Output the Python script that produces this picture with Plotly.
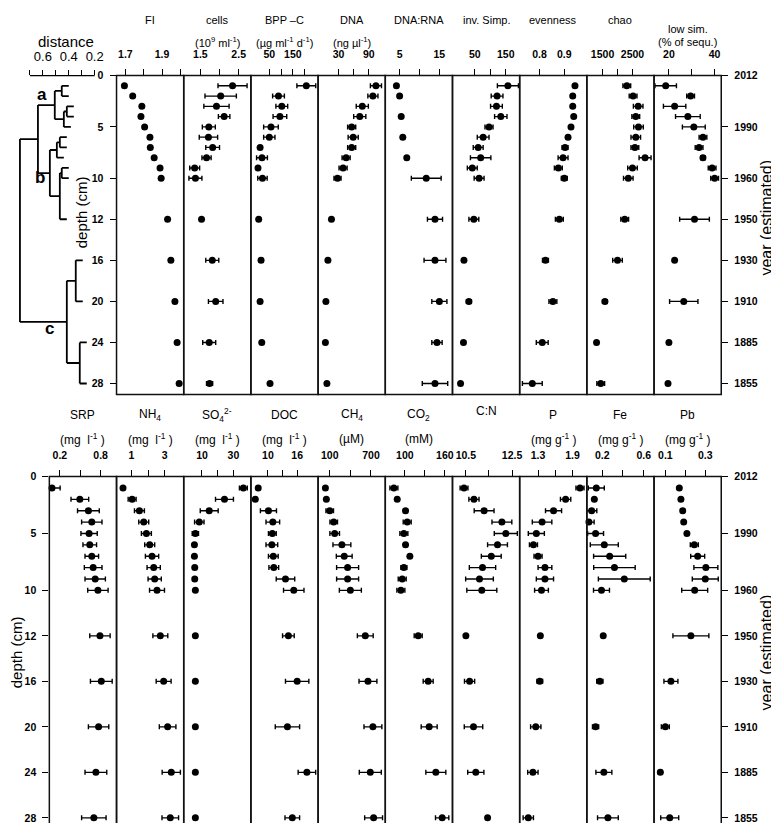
import plotly.graph_objects as go

W, H = 779, 823

# sediment depths (cm) of the samples and the labelled depth / year ticks
depth = [1, 2, 3, 4, 5, 6, 7, 8, 9, 10, 12, 16, 20, 24, 28]
depth_ticks = [0, 5, 10, 12, 16, 20, 24, 28]
year_ticks = ["2012", "1990", "1960", "1950", "1930", "1910", "1885", "1855"]

# ---- upper block (biology) ----
fi = [1.695, 1.74, 1.79, 1.785, 1.805, 1.834, 1.836, 1.857, 1.889, 1.895, 1.93, 1.948, 1.97, 1.982, 1.993]
fi_err = [0, 0, 0, 0, 0, 0, 0, 0, 0, 0, 0, 0, 0, 0, 0]
cells = [2.34, 2.03, 1.92, 2.12, 1.72, 1.71, 1.82, 1.66, 1.35, 1.37, 1.53, 1.81, 1.9, 1.73, 1.74]
cells_err = [0.38, 0.41, 0.33, 0.15, 0.17, 0.24, 0.18, 0.12, 0.13, 0.17, 0.02, 0.17, 0.19, 0.17, 0.08]
bpp = [207, 89, 103, 95, 57, 50, 11, 19, 2, 21, 5, 15, 11, 18, 53]
bpp_err = [40, 25, 25, 29, 31, 24, 5, 23, 4, 20, 2, 8, 4, 6, 4]
dna = [104, 98, 77, 72, 56, 59, 56, 45, 39, 28, 16, 9, 5, 4, 7]
dna_err = [11, 10, 12, 12, 8, 10, 8, 8, 8, 7, 2, 3, 2, 2, 2]
dnarna = [4.2, 5.0, None, 5.4, None, 5.8, None, 6.8, None, 11.7, 13.9, 13.9, 15.0, 14.4, 13.9]
dnarna_err = [0.3, 0.3, 0, 0.4, 0, 0.4, 0, 0.4, 0, 3.75, 1.9, 2.75, 1.9, 1.3, 3.2]
invsimp = [157, 122, 120, 134, 96, 77, 61, 69, 42, 64, 47, 15, 31, 13.5, 4]
invsimp_err = [34, 19, 19, 20, 13, 19, 16, 33, 16, 16, 16, 3, 8, 3, 2]
evenness = [0.943, 0.934, 0.934, 0.938, 0.927, 0.915, 0.903, 0.895, 0.876, 0.9, 0.88, 0.824, 0.854, 0.811, 0.771]
evenness_err = [0.004, 0.004, 0.004, 0.004, 0.004, 0.006, 0.012, 0.02, 0.016, 0.012, 0.016, 0.012, 0.016, 0.024, 0.04]
chao = [2310, 2520, 2690, 2610, 2700, 2610, 2580, 2920, 2500, 2360, 2240, 2000, 1580, 1300, 1440]
chao_err = [130, 130, 160, 130, 160, 160, 130, 200, 160, 160, 130, 160, 80, 60, 130]
lowsim = [18.6, 29.5, 22.5, 28.3, 30.9, 34.9, 33.2, 34.9, 38.9, 40, 31.2, 22.5, 26.5, 20, 19.6]
lowsim_err = [4.7, 1.7, 4.9, 5.4, 5, 1.7, 1.7, 1.0, 1.7, 1.7, 6.5, 0.5, 6.2, 0.3, 0.3]

# ---- lower block (chemistry) ----
srp = [0.084, 0.494, 0.62, 0.67, 0.63, 0.64, 0.67, 0.69, 0.72, 0.76, 0.79, 0.81, 0.77, 0.73, 0.70]
srp_err = [0.12, 0.13, 0.16, 0.15, 0.12, 0.1, 0.1, 0.13, 0.15, 0.15, 0.15, 0.16, 0.15, 0.16, 0.18]
nh4 = [0.49, 1.04, 1.48, 1.74, 1.9, 2.1, 2.24, 2.34, 2.4, 2.54, 2.74, 2.94, 3.18, 3.4, 3.34]
nh4_err = [0.05, 0.24, 0.3, 0.3, 0.3, 0.3, 0.4, 0.4, 0.4, 0.45, 0.45, 0.45, 0.5, 0.55, 0.5]
so4 = [36.3, 24.3, 14.6, 8.3, 5.8, 5.2, 5.2, 5.4, 5.4, 5.8, 5.8, 5.8, 5.8, 5.8, 5.8]
so4_err = [2.5, 5.7, 5.7, 3, 2, 0.5, 0.5, 0.5, 0.5, 0.5, 0.5, 0.5, 0.5, 0.5, 0.5]
doc = [8.0, 7.4, 10.1, 11.0, 10.9, 10.8, 11.1, 11.2, 13.6, 15.3, 14.2, 16, 14, 18, 15]
doc_err = [0.3, 0.3, 1.65, 1.4, 0.8, 1.2, 1.0, 1.0, 1.9, 2.1, 1.2, 2.4, 2.5, 1.8, 1.5]
ch4 = [37, 51, 100, 158, 172, 277, 311, 360, 360, 400, 617, 656, 728, 690, 738]
ch4_err = [10, 10, 55, 55, 70, 130, 115, 160, 160, 160, 115, 130, 130, 160, 130]
co2 = [83.5, 88.5, 101, 103.5, 98.5, 101, 107.5, 98.5, 96, 94, 120, 135, 136.5, 146.5, 156]
co2_err = [6, 2, 2, 6, 6, 2, 2, 4.5, 6, 6, 6, 7.5, 12, 15, 10]
cn = [10.42, 10.85, 11.29, 12.06, 12.23, 11.87, 11.6, 11.22, 11.09, 11.19, 10.5, 10.66, 10.83, 10.93, 11.44]
cn_err = [0.17, 0.22, 0.43, 0.43, 0.5, 0.43, 0.43, 0.57, 0.6, 0.65, 0.02, 0.22, 0.4, 0.35, 0.02]
p = [2.03, 1.78, 1.57, 1.37, 1.27, 1.22, 1.30, 1.42, 1.42, 1.36, 1.34, 1.33, 1.26, 1.21, 1.13]
p_err = [0.07, 0.09, 0.14, 0.17, 0.14, 0.07, 0.07, 0.12, 0.15, 0.12, 0.02, 0.05, 0.09, 0.09, 0.09]
fe = [0.143, 0.124, 0.098, 0.072, 0.136, 0.22, 0.272, 0.318, 0.413, 0.193, 0.21, 0.177, 0.136, 0.216, 0.255]
fe_err = [0.077, 0.01, 0.05, 0.05, 0.077, 0.135, 0.155, 0.2, 0.25, 0.077, 0.01, 0.03, 0.03, 0.077, 0.1]
pb = [0.17, 0.178, 0.187, 0.192, 0.208, 0.245, 0.262, 0.303, 0.3, 0.247, 0.228, 0.128, 0.1, 0.075, 0.122]
pb_err = [0.005, 0.005, 0.005, 0.005, 0.005, 0.02, 0.035, 0.06, 0.065, 0.065, 0.09, 0.035, 0.02, 0.01, 0.045]

# cluster tree of the samples: (merge distance, left, right)
tree = (0.777,
        (0.638,
         (0.508, (0.454, 1, 2), (0.438, (0.415, 3, 4), 5)),
         (0.546, (0.492, (0.469, 6, 7), 8), (0.469, (0.454, 9, 10), 12))),
        (0.415, (0.346, 16, 20), (0.315, 24, 28)))
leaf_hang = 0.054

top_panels = [
    ("FI", "", fi, fi_err, [1.652, 2.018], [1.7, 1.8, 1.9, 2.0], ["1.7", "", "1.9", ""]),
    ("cells", "(10<sup>9</sup> ml<sup>-1</sup>)", cells, cells_err, [1.064, 2.82], [1.5, 2.0, 2.5], ["1.5", "", "2.5"]),
    ("BPP \u2013C", "(\u00b5g ml<sup>-1</sup> d<sup>-1</sup>)", bpp, bpp_err, [-28, 257], [50, 100, 150, 200], ["50", "", "150", ""]),
    ("DNA", "(ng \u00b5l<sup>-1</sup>)", dna, dna_err, [-10.4, 122.5], [30, 60, 90], ["30", "", "90"]),
    ("DNA:RNA", "", dnarna, dnarna_err, [1.4, 18.3], [5, 10, 15], ["5", "", "15"]),
    ("inv. Simp.", "", invsimp, invsimp_err, [-22, 195], [50, 100, 150], ["50", "", "150"]),
    ("evenness", "", evenness, evenness_err, [0.72, 0.991], [0.8, 0.9], ["0.8", "0.9"]),
    ("chao", "", chao, chao_err, [977, 3220], [1500, 2000, 2500], ["1500", "", "2500"]),
    ("low sim.", "(% of sequ.)", lowsim, lowsim_err, [13.5, 42.9], [20, 30, 40], ["20", "", "40"]),
]
bottom_panels = [
    ("SRP", "(mg  l<sup>-1</sup> )", srp, srp_err, [0.045, 1.034], [0.2, 0.5, 0.8], ["0.2", "", "0.8"]),
    ("NH<sub>4</sub>", "(mg  l<sup>-1</sup> )", nh4, nh4_err, [0.1, 4.15], [1, 2, 3], ["1", "", "3"]),
    ("SO<sub>4</sub><sup>2-</sup>", "(mg  l<sup>-1</sup> )", so4, so4_err, [-1.6, 41.1], [10, 20, 30], ["10", "", "30"]),
    ("DOC", "(mg  l<sup>-1</sup> )", doc, doc_err, [6.5, 20.3], [10, 13, 16], ["10", "", "16"]),
    ("CH<sub>4</sub>", "(\u00b5M)", ch4, ch4_err, [-69, 908], [100, 400, 700], ["100", "", "700"]),
    ("CO<sub>2</sub>", "(mM)", co2, co2_err, [70.6, 171.5], [100, 130, 160], ["100", "", "160"]),
    ("C:N", "", cn, cn_err, [9.92, 12.83], [10.5, 11.5, 12.5], ["10.5", "", "12.5"]),
    ("P", "(mg g<sup>-1</sup> )", p, p_err, [0.98, 2.15], [1.3, 1.6, 1.9], ["1.3", "", "1.9"]),
    ("Fe", "(mg g<sup>-1</sup> )", fe, fe_err, [0.052, 0.7], [0.2, 0.4, 0.6], ["0.2", "", "0.6"]),
    ("Pb", "(mg g<sup>-1</sup> )", pb, pb_err, [0.0435, 0.38], [0.1, 0.2, 0.3], ["0.1", "", "0.3"]),
]


def pos(d):
    # the depth axis has a gap between 10 and 12 cm
    return d if d <= 10 else d + 2


def ax(k):
    return "x" if k == 1 else f"x{k}"


FONT = "Liberation Sans, Arial, sans-serif"
edges = [41.5 + 67.45 * i for i in range(11)]
TOP = (62.0, 383.3)
BOT = (466.0, 822.0)
YMAX = 31.07


def xdom(a, b):
    return [a / W, b / W]


def ydom(t, b):
    return [1 - b / H, 1 - t / H]


def label(text, x, y, size, xref="paper", yref="paper", angle=0):
    return dict(text=text, xref=xref, yref=yref, x=x, y=y, showarrow=False, textangle=angle,
                xanchor="center", yanchor="middle",
                font=dict(family=FONT, size=size, color="black"))


ypos = [pos(d) for d in depth]
fig = go.Figure()
annotations = []
shapes = []
layout = {}


def add_panel(k, spec, x0, x1, yname):
    name, unit, vals, err, rng, tv, tt = spec
    fig.add_trace(go.Scatter(
        x=vals, y=ypos, xaxis=ax(k), yaxis=yname, mode="markers",
        marker=dict(color="black", size=7), cliponaxis=False,
        error_x=dict(type="data", array=err, color="black", thickness=1.4, width=2.5),
        showlegend=False, hoverinfo="x+y"))
    layout["xaxis" if k == 1 else f"xaxis{k}"] = dict(
        domain=xdom(x0, x1), range=rng, anchor=yname, side="top",
        tickmode="array", tickvals=tv, ticktext=tt, ticks="outside", ticklen=6,
        tickwidth=1.3, tickcolor="black", showgrid=False, zeroline=False, showline=False,
        ticklabelstandoff=6,
        tickfont=dict(family=FONT, size=10.5, color="black", weight="bold"))
    shapes.append(dict(type="rect", xref=f"{ax(k)} domain", yref=f"{yname} domain",
                       x0=0, x1=1, y0=0, y1=1, line=dict(color="#111", width=1.5)))
    return name, unit


for i, spec in enumerate(top_panels):
    k = i + 1
    name, unit = add_panel(k, spec, edges[i + 1], edges[i + 2], "y")
    ty = 15 if name == "low sim." else 6
    annotations.append(label(name, 0.5, 1 - ty / H, 11, xref=f"{ax(k)} domain"))
    if unit:
        annotations.append(label(unit, 0.5, 1 - 28 / H, 11, xref=f"{ax(k)} domain"))

for j, spec in enumerate(bottom_panels):
    k = 10 + j
    name, unit = add_panel(k, spec, edges[j], edges[j + 1], "y2")
    ty = 400 if name == "C:N" else 404
    annotations.append(label(name, 0.5, 1 - ty / H, 12, xref=f"{ax(k)} domain"))
    if unit:
        annotations.append(label(unit, 0.5, 1 - 428 / H, 12, xref=f"{ax(k)} domain"))

ytick_pos = [pos(d) for d in depth_ticks]
yfont = dict(family=FONT, size=10.5, color="black", weight="bold")
common_y = dict(range=[YMAX, 0], tickmode="array", tickvals=ytick_pos, ticks="outside", ticklen=6,
                tickwidth=1.3, tickcolor="black", showgrid=False, zeroline=False, showline=False,
                tickfont=yfont, ticklabelstandoff=4)
layout["yaxis"] = dict(domain=ydom(*TOP), anchor="x", side="left",
                       ticktext=[str(d) for d in depth_ticks], **common_y)
layout["yaxis2"] = dict(domain=ydom(*BOT), anchor="x10", side="left",
                        ticktext=[str(d) for d in depth_ticks], **common_y)
layout["yaxis3"] = dict(overlaying="y", anchor="x9", side="right", ticktext=year_ticks, **common_y)
layout["yaxis4"] = dict(overlaying="y2", anchor="x19", side="right", ticktext=year_ticks, **common_y)
fig.add_trace(go.Scatter(x=[None], y=[None], xaxis="x9", yaxis="y3", showlegend=False))
fig.add_trace(go.Scatter(x=[None], y=[None], xaxis="x19", yaxis="y4", showlegend=False))

# dendrogram
seg_x, seg_y = [], []


def draw(node):
    h, left, right = node
    ends = []
    for child in (left, right):
        if isinstance(child, tuple):
            cy, ch = draw(child)
        else:
            cy, ch = pos(child), h - leaf_hang
        seg_x.extend([ch, h, None])
        seg_y.extend([cy, cy, None])
        ends.append(cy)
    seg_x.extend([h, h, None])
    seg_y.extend([ends[0], ends[1], None])
    return (ends[0] + ends[1]) / 2, h


draw(tree)
fig.add_trace(go.Scatter(x=seg_x, y=seg_y, xaxis="x20", yaxis="y", mode="lines",
                         line=dict(color="black", width=1.8), showlegend=False, hoverinfo="skip"))
px_per_dist = 130.0
layout["xaxis20"] = dict(
    domain=xdom(0, edges[1]), range=[0.2 + 87 / px_per_dist, 0.2 - (edges[1] - 87) / px_per_dist],
    anchor="y", side="top", tickmode="array", tickvals=[0.7, 0.6, 0.5, 0.4, 0.3, 0.2],
    ticktext=["", "0.6", "", "0.4", "", "0.2"], ticks="outside", ticklen=5, tickwidth=1.3,
    tickcolor="black", showgrid=False, zeroline=False, showline=False, ticklabelstandoff=3,
    tickfont=dict(family=FONT, size=13, color="black"))
shapes.append(dict(type="line", xref="x20", yref="paper", x0=0.7, x1=0.2,
                   y0=1 - TOP[0] / H, y1=1 - TOP[0] / H, line=dict(color="black", width=1.3)))
for lab, lx, ly in [("a", 0.608, 1.8), ("b", 0.623, 9.9), ("c", 0.546, 24.6)]:
    annotations.append(label(f"<b>{lab}</b>", lx, ly, 17, xref="x20", yref="y"))

# axis titles
annotations += [
    label("distance", 58 / W, 1 - 28 / H, 15),
    label("depth (cm)", 74 / W, 1 - 200 / H, 15, angle=-90),
    label("depth (cm)", 8 / W, 1 - 643 / H, 15, angle=-90),
    label("year (estimated)", 761 / W, 1 - 205 / H, 16, angle=-90),
    label("year (estimated)", 761 / W, 1 - 643 / H, 16, angle=-90),
]

fig.update_layout(width=W, height=H, autosize=False, margin=dict(l=0, r=0, t=0, b=0),
                  paper_bgcolor="white", plot_bgcolor="white", showlegend=False,
                  annotations=annotations, shapes=shapes, **layout)
fig.write_html("out.html")
